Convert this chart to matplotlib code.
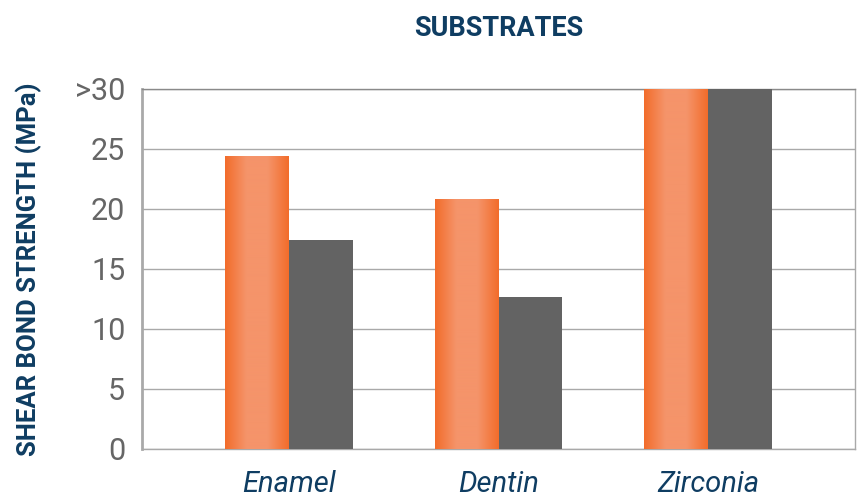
import numpy as np
import matplotlib as mpl
from matplotlib import pyplot as plt
from matplotlib.colors import LinearSegmentedColormap

categories = ['Enamel', 'Dentin', 'Zirconia']
orange_vals = [24.4, 20.8, 30.0]
grey_vals = [17.4, 12.7, 30.0]
yticks = [0, 5, 10, 15, 20, 25, 30]
ytick_labels = ['0', '5', '10', '15', '20', '25', '>30']

navy = '#0f3d62'
orange_edge = '#f26c2a'
orange_mid = '#f5946a'
grey_bar = '#636363'
line_col = '#a9a9a9'

plt.rcParams['font.family'] = ['Roboto', 'DejaVu Sans']

fig = plt.figure(figsize=(8.65, 4.99), dpi=100)
ax = fig.add_axes([142 / 865, 1 - 449 / 499, 713 / 865, 360 / 499])

x = np.arange(len(categories))
w = 0.305
bars_o = ax.bar(x - w / 2, orange_vals, w, color=orange_edge, zorder=3)
ax.bar(x + w / 2, grey_vals, w, color=grey_bar, zorder=3)

# horizontal gradient on the orange bars
cmap = LinearSegmentedColormap.from_list('org', [orange_edge, orange_mid, orange_mid, orange_edge])
grad = np.linspace(0, 1, 256).reshape(1, -1)
for b in bars_o:
    bx, by = b.get_x(), b.get_y()
    bw, bh = b.get_width(), b.get_height()
    im = ax.imshow(grad, cmap=cmap, aspect='auto', extent=[bx, bx + bw, by, by + bh],
                   zorder=4, interpolation='bilinear')
    im.set_clip_path(b)

ax.set_xlim(-0.7, 2.7)
ax.set_ylim(0, 30)
ax.set_yticks(yticks)
ax.set_yticklabels(ytick_labels)
ax.set_xticks(x)
ax.set_xticklabels(categories)
ax.tick_params(axis='both', length=0)
ax.tick_params(axis='y', pad=12, labelsize=22, labelcolor='#666666')
ax.tick_params(axis='x', pad=15, labelsize=21, labelcolor=navy)
for t in ax.get_xticklabels():
    t.set_fontstyle('italic')

ax.yaxis.grid(True, color=line_col, lw=1.0, zorder=0)
for s in ax.spines.values():
    s.set_color(line_col)
    s.set_linewidth(1.0)
ax.spines['left'].set_linewidth(2.0)
ax.spines['top'].set_color('#8a8a8a')

ax.set_ylabel('SHEAR BOND STRENGTH (MPa)', fontsize=18.5, fontweight='bold', color=navy)
ax.yaxis.set_label_coords((42 - 142) / 713, 0.5)
ax.set_title('SUBSTRATES', fontsize=19.5, fontweight='bold', color=navy, pad=38)

fig.savefig('out.png', dpi=100)
